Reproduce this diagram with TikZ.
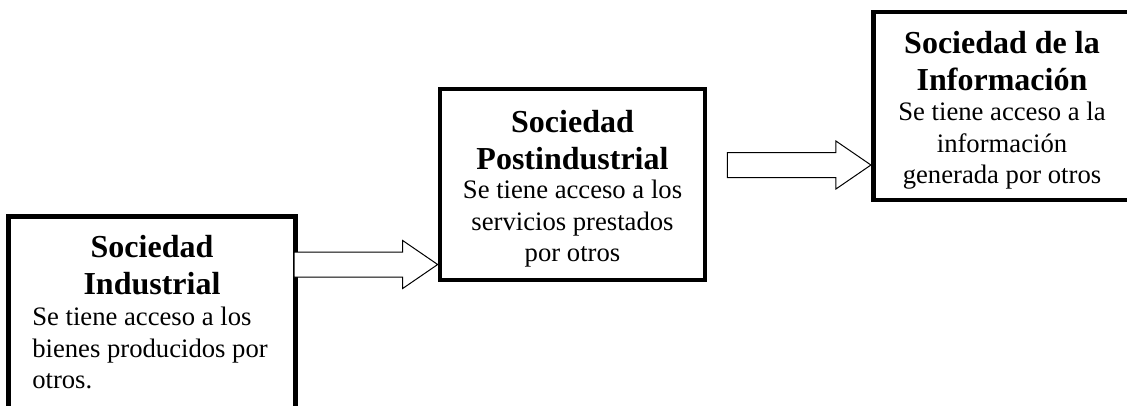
\documentclass[tikz,border=0pt]{standalone}
\usepackage{fontspec}
\setmainfont{Liberation Serif}

\newcommand{\titlefont}{\fontsize{24}{27.5}\selectfont\bfseries}
\newcommand{\bodyfont}{\fontsize{20}{23.6}\selectfont}
\def\px{0.75pt}

\tikzset{
  box/.style={draw, line width=3.5pt, inner sep=0pt},
  boxtitle/.style={font=\titlefont, align=center, inner sep=0pt, anchor=north},
  boxtext/.style={font=\bodyfont, align=center, inner sep=0pt, anchor=north},
  blkarrow/.style={draw, fill=white, line width=0.75pt, line join=miter},
}
% hollow block arrow, drawn back from its tip
\newcommand{\blockarrow}[1]{%
  \draw[blkarrow] (#1) -- ++(-35,-24) -- ++(0,11.5) -- ++(-108.5,0)
    -- ++(0,25) -- ++(108.5,0) -- ++(0,11.5) -- cycle;}

\begin{document}
\begin{tikzpicture}[x=0.75pt, y=-0.75pt]
\useasboundingbox (0,0) rectangle (1127,405);

% the three boxes
\node[box, minimum width=287*\px, minimum height=224*\px] (industrial) at (152,328.5) {};
\node[box, minimum width=265*\px, minimum height=191*\px] (postindustrial) at (572.5,184.5) {};
\node[box, minimum width=257.5*\px, minimum height=188*\px] (informacion) at (1002,106) {};

% texts
\node[boxtitle] (indtitle) at (152,235) {Sociedad\\Industrial};
\node[boxtext, align=left, anchor=north west] (indtext) at (32,307)
  {Se tiene acceso a los\\bienes producidos por\\otros.};
\node[boxtitle] (posttitle) at (572.5,110) {Sociedad\\Postindustrial};
\node[boxtext] (posttext) at (572.5,180)
  {Se tiene acceso a los\\servicios prestados\\por otros};
\node[boxtitle] (inftitle) at (1002,31) {Sociedad de la\\Información};
\node[boxtext] (inftext) at (1002,102)
  {Se tiene acceso a la\\información\\generada por otros};

% arrows
\coordinate (tipa) at (postindustrial.west |- 0,264.5);
\coordinate (tipb) at (informacion.west |- 0,165);
\blockarrow{tipa}
\blockarrow{tipb}
\end{tikzpicture}
\end{document}
